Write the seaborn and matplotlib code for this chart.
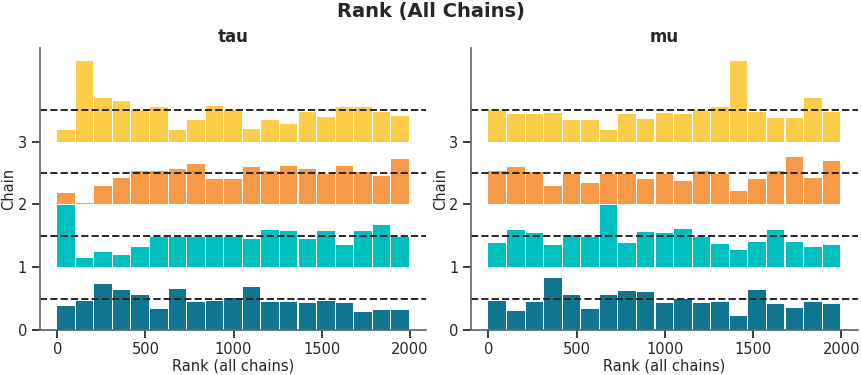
import numpy as np
import matplotlib
matplotlib.use("Agg")
import matplotlib.pyplot as plt
import seaborn as sns

# rank histograms, heights in chain units, chains 0..3
n_bins = 19
rank_max = 2000
chain_colors = ["#107591", "#00c0bf", "#f69a48", "#fdcd49"]
ref_level = 0.5

tau_c0 = [0.38, 0.46, 0.73, 0.64, 0.56, 0.34, 0.65, 0.45, 0.46, 0.51, 0.68, 0.45, 0.45, 0.43, 0.46, 0.43, 0.29, 0.32, 0.32]
tau_c1 = [0.99, 0.14, 0.24, 0.19, 0.32, 0.48, 0.48, 0.48, 0.48, 0.48, 0.45, 0.59, 0.57, 0.45, 0.57, 0.35, 0.57, 0.67, 0.48]
tau_c2 = [0.18, 0.03, 0.29, 0.43, 0.53, 0.54, 0.56, 0.64, 0.40, 0.41, 0.59, 0.54, 0.61, 0.56, 0.48, 0.61, 0.51, 0.45, 0.72]
tau_c3 = [0.18, 1.28, 0.69, 0.65, 0.50, 0.56, 0.19, 0.35, 0.57, 0.51, 0.21, 0.35, 0.29, 0.48, 0.40, 0.56, 0.56, 0.48, 0.41]

mu_c0 = [0.46, 0.30, 0.45, 0.83, 0.56, 0.34, 0.56, 0.62, 0.61, 0.43, 0.49, 0.43, 0.45, 0.22, 0.64, 0.41, 0.35, 0.45, 0.41]
mu_c1 = [0.38, 0.59, 0.54, 0.35, 0.51, 0.49, 0.99, 0.38, 0.56, 0.54, 0.61, 0.48, 0.37, 0.27, 0.40, 0.59, 0.41, 0.32, 0.35]
mu_c2 = [0.54, 0.59, 0.51, 0.29, 0.49, 0.35, 0.49, 0.49, 0.40, 0.49, 0.38, 0.53, 0.48, 0.22, 0.40, 0.54, 0.75, 0.43, 0.70]
mu_c3 = [0.50, 0.45, 0.45, 0.46, 0.35, 0.35, 0.19, 0.45, 0.37, 0.46, 0.45, 0.50, 0.56, 1.28, 0.48, 0.38, 0.38, 0.70, 0.48]

variables = {"tau": [tau_c0, tau_c1, tau_c2, tau_c3],
             "mu": [mu_c0, mu_c1, mu_c2, mu_c3]}

sns.set_theme(style="ticks")
plt.rcParams.update({
    "text.color": "#262626",
    "axes.labelcolor": "#262626",
    "xtick.color": "#262626",
    "ytick.color": "#262626",
    "axes.edgecolor": "#666666",
    "xtick.labelsize": 10.5,
    "ytick.labelsize": 10.5,
    "axes.labelsize": 10.5,
    "xtick.major.pad": 3,
    "ytick.major.pad": 3,
})

edges = np.linspace(0, rank_max, n_bins + 1)
bin_w = edges[1] - edges[0]

fig, axes = plt.subplots(1, 2, figsize=(8.62, 3.75), dpi=100)
fig.subplots_adjust(left=0.046, right=0.995, bottom=0.12, top=0.872, wspace=0.115)

for ax, (name, chains) in zip(axes, variables.items()):
    for idx, counts in enumerate(chains):
        ax.bar(edges[:-1], counts, bottom=idx, width=bin_w * 0.94, align="edge",
               color=chain_colors[idx], edgecolor="none")
        ax.axhline(idx + ref_level, linestyle="--", color="#262626", lw=1.4)
    ax.set_yticks(range(len(chains)))
    ax.set_xticks([0, 500, 1000, 1500, 2000])
    ax.set_xlabel("Rank (all chains)", labelpad=1)
    ax.set_ylabel("Chain", labelpad=1)
    ax.set_title(name, fontsize=12, fontweight="bold", pad=4)
    sns.despine(ax=ax)

fig.suptitle("Rank (All Chains)", fontsize=14, fontweight="bold", y=0.995)
fig.savefig("out.png", dpi=100)
